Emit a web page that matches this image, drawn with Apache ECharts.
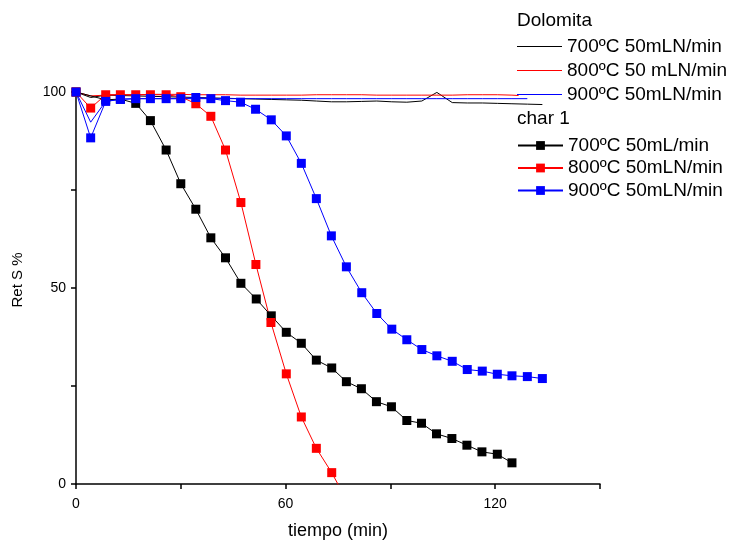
<!DOCTYPE html>
<html>
<head>
<meta charset="utf-8">
<script src="https://cdn.jsdelivr.net/npm/echarts@6/dist/echarts.min.js"></script>
<style>html,body{margin:0;padding:0;background:#fff;}#c{width:731px;height:540px;}</style>
</head>
<body>
<div id="c"></div>
<script>
// ---- data ----
const xTicks = [0, 60, 120];
const yTicks = [0, 50, 100];

const dolTime = [0, 4.2, 8.5, 12.7, 17.1, 21.3, 25.8, 30.0, 34.3, 38.6, 42.8, 47.2, 51.5, 55.9, 60.2, 64.5, 68.8, 73.1, 77.4, 81.8, 86.1, 90.4, 94.7, 99.0, 103.3, 107.7, 112.0, 116.3, 120.6, 124.8, 129.2, 133.5];
const dol700 = [100, 98.6, 99.2, 99.1, 99.0, 98.9, 98.8, 98.7, 98.6, 98.5, 98.4, 98.3, 98.2, 98.1, 98.0, 97.9, 97.7, 97.5, 97.5, 97.6, 97.7, 97.5, 97.4, 97.7, 99.9, 97.3, 97.2, 97.2, 97.1, 97.0, 96.9, 96.8];
const dol800Time = [0, 4.2, 8.5, 12.7, 17.1, 21.3, 25.8, 30.0, 34.3, 38.6, 42.8, 47.2, 51.5, 55.9, 60.2, 64.5, 68.8, 73.1, 77.4, 81.8, 86.1, 90.4, 94.7, 99.0, 103.3, 107.7, 112.0, 116.3, 120.6, 124.8, 126.7];
const dol800 = [100, 99.0, 99.2, 99.3, 99.3, 99.4, 99.4, 99.4, 99.3, 99.3, 99.3, 99.2, 99.2, 99.2, 99.2, 99.2, 99.3, 99.3, 99.3, 99.3, 99.2, 99.2, 99.2, 99.2, 99.2, 99.2, 99.3, 99.3, 99.3, 99.2, 99.1];
const dol900Time = [0, 4.2, 8.5, 12.7, 17.1, 21.3, 25.8, 30.0, 34.3, 38.6, 42.8, 47.2, 51.5, 55.9, 60.2, 64.5, 68.8, 73.1, 77.4, 81.8, 86.1, 90.4, 94.7, 99.0, 103.3, 107.7, 112.0, 116.3, 120.6, 124.8, 129.2];
const dol900 = [100, 92.3, 97.6, 98.2, 98.3, 98.3, 98.3, 98.3, 98.3, 98.3, 98.3, 98.3, 98.3, 98.3, 98.3, 98.3, 98.3, 98.3, 98.3, 98.3, 98.3, 98.3, 98.3, 98.3, 98.3, 98.3, 98.3, 98.3, 98.3, 98.3, 98.3];

const char700Time = [0, 8.5, 12.7, 17.1, 21.3, 25.8, 30.0, 34.3, 38.6, 42.8, 47.2, 51.6, 55.9, 60.2, 64.5, 68.8, 73.2, 77.4, 81.7, 86.0, 90.3, 94.7, 98.9, 103.2, 107.6, 111.9, 116.2, 120.6, 124.8];
const char700 = [100, 98.0, 98.2, 97.1, 92.7, 85.2, 76.6, 70.1, 62.8, 57.7, 51.2, 47.2, 42.9, 38.7, 35.9, 31.6, 29.6, 26.1, 24.3, 21.0, 19.7, 16.2, 15.5, 12.8, 11.6, 9.9, 8.2, 7.6, 5.4];
const char800Time = [0, 4.2, 8.5, 12.7, 17.1, 21.3, 25.8, 30.0, 34.3, 38.6, 42.8, 47.2, 51.5, 55.8, 60.2, 64.5, 68.8, 73.2, 77.4];
const char800 = [100, 95.9, 99.3, 99.3, 99.3, 99.3, 99.3, 98.8, 97.0, 93.8, 85.2, 71.8, 56.0, 41.2, 28.1, 17.1, 9.1, 2.9, -4];
const char900Time = [0, 4.2, 8.5, 12.7, 17.1, 21.3, 25.8, 30.0, 34.3, 38.6, 42.8, 47.1, 51.4, 55.9, 60.2, 64.5, 68.8, 73.1, 77.4, 81.8, 86.1, 90.4, 94.7, 99.0, 103.3, 107.7, 112.0, 116.3, 120.6, 124.8, 129.2, 133.5];
const char900 = [100, 88.3, 97.6, 98.1, 98.3, 98.3, 98.3, 98.3, 98.6, 98.3, 97.8, 97.4, 95.6, 92.9, 88.8, 81.8, 72.8, 63.3, 55.4, 48.8, 43.5, 39.5, 36.8, 34.3, 32.7, 31.3, 29.2, 28.8, 28.0, 27.6, 27.4, 26.9];

const labels = {
  d700: '700ºC 50mLN/min', d800: '800ºC 50 mLN/min', d900: '900ºC 50mLN/min',
  c700: '700ºC 50mL/min', c800: '800ºC 50mLN/min', c900: '900ºC 50mLN/min'
};
const colors = { k: '#000000', r: '#ff0000', b: '#0000ff' };

function zip(xs, ys) { return xs.map((x, i) => [x, ys[i]]); }

const FONT = 'Arial, "Liberation Sans", sans-serif';
const chart = echarts.init(document.getElementById('c'), null, { renderer: 'canvas' });

function dolSeries(id, xs, ys, color) {
  return { name: id, type: 'line', data: zip(xs, ys), symbol: 'none', color: color,
    itemStyle: { color: color },
    lineStyle: { width: 1, color: color }, animation: false, clip: true, z: 2 };
}
function charSeries(id, xs, ys, color) {
  return { name: id, type: 'line', data: zip(xs, ys), symbol: 'rect', symbolSize: 9, showSymbol: true, color: color,
    itemStyle: { color: color }, lineStyle: { width: 1, color: color }, animation: false, clip: true, z: 3 };
}

chart.setOption({
  animation: false,
  textStyle: { fontFamily: FONT },
  grid: { left: 76, top: 92, right: 131, bottom: 56, containLabel: false, outerBoundsMode: 'none' },
  xAxis: {
    type: 'value', min: 0, max: 150, interval: 30,
    name: 'tiempo (min)', nameLocation: 'middle', nameGap: 38,
    nameTextStyle: { fontSize: 18, color: '#000', fontFamily: FONT },
    axisLine: { lineStyle: { color: '#000', width: 1.5 } },
    axisTick: { show: true, length: 5, inside: false, lineStyle: { color: '#000', width: 1.5 } },
    axisLabel: { color: '#000', fontSize: 14, margin: 13, fontFamily: FONT,
      formatter: v => (xTicks.indexOf(v) >= 0 ? String(v) : '') },
    splitLine: { show: false }
  },
  yAxis: {
    type: 'value', min: 0, max: 100, interval: 25,
    name: 'Ret S %', nameLocation: 'middle', nameGap: 51, nameRotate: 90,
    nameTextStyle: { fontSize: 15, color: '#000', fontFamily: FONT, padding: [0, 0, 0, 16] },
    axisLine: { show: true, lineStyle: { color: '#000', width: 1.5 } },
    axisTick: { show: true, length: 5, inside: false, lineStyle: { color: '#000', width: 1.5 } },
    axisLabel: { color: '#000', fontSize: 14, margin: 10, fontFamily: FONT,
      formatter: v => (yTicks.indexOf(v) >= 0 ? String(v) : '') },
    splitLine: { show: false }
  },
  graphic: [
    { type: 'text', left: 517, top: 11, style: { text: 'Dolomita', fontSize: 19, fill: '#000', fontFamily: FONT } },
    { type: 'text', left: 517, top: 109, style: { text: 'char 1', fontSize: 19, fill: '#000', fontFamily: FONT } }
  ],
  legend: [
    { data: [{ name: 'd700', icon: 'rect' }, { name: 'd800', icon: 'rect' }, { name: 'd900', icon: 'rect' }],
      orient: 'vertical', left: 517, top: 37, itemWidth: 45, itemHeight: 1,
      itemGap: 5, padding: 0, formatter: n => labels[n], selectedMode: false,
      textStyle: { fontSize: 19, color: '#000', fontFamily: FONT, lineHeight: 19 } },
    { data: ['c700', 'c800', 'c900'], orient: 'vertical', left: 517, top: 136, itemWidth: 45, itemHeight: 11,
      itemGap: 3.5, padding: 0, formatter: n => labels[n], selectedMode: false,
      textStyle: { fontSize: 19, color: '#000', fontFamily: FONT, lineHeight: 19 } }
  ],
  series: [
    dolSeries('d700', dolTime, dol700, colors.k),
    dolSeries('d800', dol800Time, dol800, colors.r),
    dolSeries('d900', dol900Time, dol900, colors.b),
    charSeries('c700', char700Time, char700, colors.k),
    charSeries('c800', char800Time, char800, colors.r),
    charSeries('c900', char900Time, char900, colors.b)
  ]
});
</script>
</body>
</html>
